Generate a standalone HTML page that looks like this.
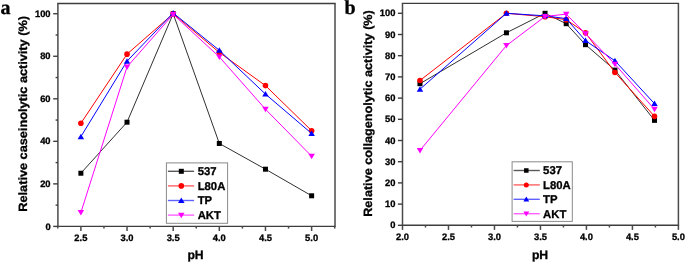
<!DOCTYPE html>
<html><head><meta charset="utf-8"><style>
html,body{margin:0;padding:0;background:#fff;}
body{width:685px;height:263px;overflow:hidden;}
text{stroke:#000;stroke-width:0.3px;}
svg{display:block;will-change:transform;text-rendering:geometricPrecision;font-family:"Liberation Sans", sans-serif;}
</style></head><body>
<svg width="685" height="263" viewBox="0 0 685 263">
<g font-family='"Liberation Sans", sans-serif' font-weight="bold" fill="#000">
<polyline points="80.88,173.23 127.02,122.19 173.18,13.73 219.32,143.46 265.47,169.19 311.62,195.78" fill="none" stroke="#303030" stroke-width="1.0" stroke-linejoin="round"/>
<rect x="78.38" y="170.73" width="5" height="5" fill="#000000"/>
<rect x="124.52" y="119.69" width="5" height="5" fill="#000000"/>
<rect x="170.68" y="11.23" width="5" height="5" fill="#000000"/>
<rect x="216.82" y="140.96" width="5" height="5" fill="#000000"/>
<rect x="262.97" y="166.69" width="5" height="5" fill="#000000"/>
<rect x="309.12" y="193.28" width="5" height="5" fill="#000000"/>
<polyline points="80.88,123.26 127.02,54.14 173.18,13.73 219.32,52.44 265.47,85.61 311.62,130.7" fill="none" stroke="#ff0000" stroke-width="1.0" stroke-linejoin="round"/>
<circle cx="80.88" cy="123.26" r="2.8" fill="#ff0000"/>
<circle cx="127.02" cy="54.14" r="2.8" fill="#ff0000"/>
<circle cx="173.18" cy="13.73" r="2.8" fill="#ff0000"/>
<circle cx="219.32" cy="52.44" r="2.8" fill="#ff0000"/>
<circle cx="265.47" cy="85.61" r="2.8" fill="#ff0000"/>
<circle cx="311.62" cy="130.7" r="2.8" fill="#ff0000"/>
<polyline points="80.88,136.65 127.02,61.16 173.18,12.99 219.32,50.31 265.47,94.12 311.62,133.46" fill="none" stroke="#0000ff" stroke-width="1.0" stroke-linejoin="round"/>
<polygon points="80.88,133.63 84.12,139.13 77.62,139.13" fill="#0000ff"/>
<polygon points="127.02,58.13 130.27,63.63 123.77,63.63" fill="#0000ff"/>
<polygon points="173.18,9.96 176.43,15.46 169.93,15.46" fill="#0000ff"/>
<polygon points="219.32,47.29 222.57,52.79 216.07,52.79" fill="#0000ff"/>
<polygon points="265.47,91.1 268.72,96.6 262.22,96.6" fill="#0000ff"/>
<polygon points="311.62,130.44 314.87,135.94 308.37,135.94" fill="#0000ff"/>
<polyline points="80.88,212.58 127.02,66.9 173.18,14.37 219.32,56.9 265.47,109.22 311.62,156.22" fill="none" stroke="#ff00ff" stroke-width="1.0" stroke-linejoin="round"/>
<polygon points="80.88,215.6 84.12,210.1 77.62,210.1" fill="#ff00ff"/>
<polygon points="127.02,69.93 130.27,64.43 123.77,64.43" fill="#ff00ff"/>
<polygon points="173.18,17.4 176.43,11.9 169.93,11.9" fill="#ff00ff"/>
<polygon points="219.32,59.93 222.57,54.43 216.07,54.43" fill="#ff00ff"/>
<polygon points="265.47,112.25 268.72,106.75 262.22,106.75" fill="#ff00ff"/>
<polygon points="311.62,159.25 314.87,153.75 308.37,153.75" fill="#ff00ff"/>
<line x1="57.2" y1="3.5" x2="335.7" y2="3.5" stroke="#3d3d3d" stroke-width="1.4"/>
<line x1="57.2" y1="226.4" x2="335.7" y2="226.4" stroke="#3d3d3d" stroke-width="1.4"/>
<line x1="57.9" y1="3.5" x2="57.9" y2="226.4" stroke="#4a4a4a" stroke-width="1.5"/>
<line x1="335" y1="3.5" x2="335" y2="226.4" stroke="#4a4a4a" stroke-width="1.5"/>
<line x1="80.88" y1="226.4" x2="80.88" y2="231" stroke="#4a4a4a" stroke-width="1.5"/>
<text x="80.88" y="240.8" text-anchor="middle" font-size="9.4">2.5</text>
<line x1="127.02" y1="226.4" x2="127.02" y2="231" stroke="#4a4a4a" stroke-width="1.5"/>
<text x="127.02" y="240.8" text-anchor="middle" font-size="9.4">3.0</text>
<line x1="173.18" y1="226.4" x2="173.18" y2="231" stroke="#4a4a4a" stroke-width="1.5"/>
<text x="173.18" y="240.8" text-anchor="middle" font-size="9.4">3.5</text>
<line x1="219.32" y1="226.4" x2="219.32" y2="231" stroke="#4a4a4a" stroke-width="1.5"/>
<text x="219.32" y="240.8" text-anchor="middle" font-size="9.4">4.0</text>
<line x1="265.47" y1="226.4" x2="265.47" y2="231" stroke="#4a4a4a" stroke-width="1.5"/>
<text x="265.47" y="240.8" text-anchor="middle" font-size="9.4">4.5</text>
<line x1="311.62" y1="226.4" x2="311.62" y2="231" stroke="#4a4a4a" stroke-width="1.5"/>
<text x="311.62" y="240.8" text-anchor="middle" font-size="9.4">5.0</text>
<line x1="57.8" y1="226.4" x2="57.8" y2="228.6" stroke="#4a4a4a" stroke-width="1.5"/>
<line x1="103.95" y1="226.4" x2="103.95" y2="228.6" stroke="#4a4a4a" stroke-width="1.5"/>
<line x1="150.1" y1="226.4" x2="150.1" y2="228.6" stroke="#4a4a4a" stroke-width="1.5"/>
<line x1="196.25" y1="226.4" x2="196.25" y2="228.6" stroke="#4a4a4a" stroke-width="1.5"/>
<line x1="242.4" y1="226.4" x2="242.4" y2="228.6" stroke="#4a4a4a" stroke-width="1.5"/>
<line x1="288.55" y1="226.4" x2="288.55" y2="228.6" stroke="#4a4a4a" stroke-width="1.5"/>
<line x1="334.7" y1="226.4" x2="334.7" y2="228.6" stroke="#4a4a4a" stroke-width="1.5"/>
<line x1="57.8" y1="226.4" x2="53.2" y2="226.4" stroke="#3d3d3d" stroke-width="1.4"/>
<text x="50.6" y="229.5" text-anchor="end" font-size="9.4">0</text>
<line x1="57.8" y1="183.87" x2="53.2" y2="183.87" stroke="#3d3d3d" stroke-width="1.4"/>
<text x="50.6" y="186.97" text-anchor="end" font-size="9.4">20</text>
<line x1="57.8" y1="141.33" x2="53.2" y2="141.33" stroke="#3d3d3d" stroke-width="1.4"/>
<text x="50.6" y="144.43" text-anchor="end" font-size="9.4">40</text>
<line x1="57.8" y1="98.8" x2="53.2" y2="98.8" stroke="#3d3d3d" stroke-width="1.4"/>
<text x="50.6" y="101.9" text-anchor="end" font-size="9.4">60</text>
<line x1="57.8" y1="56.27" x2="53.2" y2="56.27" stroke="#3d3d3d" stroke-width="1.4"/>
<text x="50.6" y="59.37" text-anchor="end" font-size="9.4">80</text>
<line x1="57.8" y1="13.73" x2="53.2" y2="13.73" stroke="#3d3d3d" stroke-width="1.4"/>
<text x="50.6" y="16.83" text-anchor="end" font-size="9.4">100</text>
<line x1="57.8" y1="205.13" x2="55.6" y2="205.13" stroke="#3d3d3d" stroke-width="1.4"/>
<line x1="57.8" y1="162.6" x2="55.6" y2="162.6" stroke="#3d3d3d" stroke-width="1.4"/>
<line x1="57.8" y1="120.07" x2="55.6" y2="120.07" stroke="#3d3d3d" stroke-width="1.4"/>
<line x1="57.8" y1="77.53" x2="55.6" y2="77.53" stroke="#3d3d3d" stroke-width="1.4"/>
<line x1="57.8" y1="35" x2="55.6" y2="35" stroke="#3d3d3d" stroke-width="1.4"/>
<rect x="166.4" y="162.9" width="61.2" height="60.4" fill="#fff" stroke="#8a8a8a" stroke-width="1"/>
<line x1="167.9" y1="171.3" x2="194.1" y2="171.3" stroke="#303030" stroke-width="1.4" stroke-opacity="0.8"/>
<rect x="178.8" y="168.8" width="5" height="5" fill="#000000"/>
<text x="197.7" y="174.9" font-size="11.3">537</text>
<line x1="167.9" y1="185.9" x2="194.1" y2="185.9" stroke="#ff0000" stroke-width="1.4" stroke-opacity="0.62"/>
<circle cx="181.3" cy="185.9" r="2.8" fill="#ff0000"/>
<text x="197.7" y="189.5" font-size="11.3">L80A</text>
<line x1="167.9" y1="200.5" x2="194.1" y2="200.5" stroke="#0000ff" stroke-width="1.4" stroke-opacity="0.62"/>
<polygon points="181.3,197.47 184.55,202.97 178.05,202.97" fill="#0000ff"/>
<text x="197.7" y="204.1" font-size="11.3">TP</text>
<line x1="167.9" y1="215.1" x2="194.1" y2="215.1" stroke="#ff00ff" stroke-width="1.4" stroke-opacity="0.62"/>
<polygon points="181.3,218.13 184.55,212.63 178.05,212.63" fill="#ff00ff"/>
<text x="197.7" y="218.7" font-size="11.3">AKT</text>
<text x="195.5" y="259.1" text-anchor="middle" font-size="12.2">pH</text>
<text transform="translate(27.4,113.85) rotate(-90)" text-anchor="middle" font-size="12" textLength="195.6" lengthAdjust="spacingAndGlyphs">Relative caseinolytic activity (%)</text>
<text x="0.6" y="14.1" font-family="'Liberation Serif', serif" font-size="20" font-weight="bold">a</text>
<polyline points="419.97,83.68 506.42,32.8 545.05,13.3 566.2,23.69 585.51,44.68 614.94,70.12 654.49,120.36" fill="none" stroke="#303030" stroke-width="1.0" stroke-linejoin="round"/>
<rect x="417.47" y="81.18" width="5" height="5" fill="#000000"/>
<rect x="503.92" y="30.3" width="5" height="5" fill="#000000"/>
<rect x="542.55" y="10.8" width="5" height="5" fill="#000000"/>
<rect x="563.7" y="21.19" width="5" height="5" fill="#000000"/>
<rect x="583.01" y="42.18" width="5" height="5" fill="#000000"/>
<rect x="612.44" y="67.62" width="5" height="5" fill="#000000"/>
<rect x="651.99" y="117.86" width="5" height="5" fill="#000000"/>
<polyline points="419.97,80.5 506.42,13.3 545.05,16.69 566.2,19.66 585.51,32.8 614.94,72.45 654.49,116.33" fill="none" stroke="#ff0000" stroke-width="1.0" stroke-linejoin="round"/>
<circle cx="419.97" cy="80.5" r="2.8" fill="#ff0000"/>
<circle cx="506.42" cy="13.3" r="2.8" fill="#ff0000"/>
<circle cx="545.05" cy="16.69" r="2.8" fill="#ff0000"/>
<circle cx="566.2" cy="19.66" r="2.8" fill="#ff0000"/>
<circle cx="585.51" cy="32.8" r="2.8" fill="#ff0000"/>
<circle cx="614.94" cy="72.45" r="2.8" fill="#ff0000"/>
<circle cx="654.49" cy="116.33" r="2.8" fill="#ff0000"/>
<polyline points="419.97,89.2 506.42,13.3 545.05,15.84 566.2,18.6 585.51,40.65 614.94,60.79 654.49,103.61" fill="none" stroke="#0000ff" stroke-width="1.0" stroke-linejoin="round"/>
<polygon points="419.97,86.17 423.22,91.67 416.72,91.67" fill="#0000ff"/>
<polygon points="506.42,10.28 509.67,15.78 503.17,15.78" fill="#0000ff"/>
<polygon points="545.05,12.82 548.3,18.32 541.8,18.32" fill="#0000ff"/>
<polygon points="566.2,15.57 569.45,21.07 562.95,21.07" fill="#0000ff"/>
<polygon points="585.51,37.62 588.76,43.12 582.26,43.12" fill="#0000ff"/>
<polygon points="614.94,57.76 618.19,63.26 611.69,63.26" fill="#0000ff"/>
<polygon points="654.49,100.59 657.74,106.09 651.24,106.09" fill="#0000ff"/>
<polyline points="419.97,150.46 506.42,45.52 545.05,16.48 566.2,14.15 585.51,33.65 614.94,64.18 654.49,109.34" fill="none" stroke="#ff00ff" stroke-width="1.0" stroke-linejoin="round"/>
<polygon points="419.97,153.49 423.22,147.99 416.72,147.99" fill="#ff00ff"/>
<polygon points="506.42,48.55 509.67,43.05 503.17,43.05" fill="#ff00ff"/>
<polygon points="545.05,19.5 548.3,14 541.8,14" fill="#ff00ff"/>
<polygon points="566.2,17.17 569.45,11.67 562.95,11.67" fill="#ff00ff"/>
<polygon points="585.51,36.68 588.76,31.18 582.26,31.18" fill="#ff00ff"/>
<polygon points="614.94,67.21 618.19,61.71 611.69,61.71" fill="#ff00ff"/>
<polygon points="654.49,112.36 657.74,106.86 651.24,106.86" fill="#ff00ff"/>
<line x1="401.8" y1="3.35" x2="679.1" y2="3.35" stroke="#3d3d3d" stroke-width="1.4"/>
<line x1="401.8" y1="225.3" x2="679.1" y2="225.3" stroke="#3d3d3d" stroke-width="1.4"/>
<line x1="402.5" y1="3.35" x2="402.5" y2="225.3" stroke="#4a4a4a" stroke-width="1.5"/>
<line x1="678.4" y1="3.35" x2="678.4" y2="225.3" stroke="#4a4a4a" stroke-width="1.5"/>
<line x1="402.5" y1="225.3" x2="402.5" y2="229.9" stroke="#4a4a4a" stroke-width="1.5"/>
<text x="402.5" y="239.8" text-anchor="middle" font-size="9.4">2.0</text>
<line x1="448.48" y1="225.3" x2="448.48" y2="229.9" stroke="#4a4a4a" stroke-width="1.5"/>
<text x="448.48" y="239.8" text-anchor="middle" font-size="9.4">2.5</text>
<line x1="494.47" y1="225.3" x2="494.47" y2="229.9" stroke="#4a4a4a" stroke-width="1.5"/>
<text x="494.47" y="239.8" text-anchor="middle" font-size="9.4">3.0</text>
<line x1="540.45" y1="225.3" x2="540.45" y2="229.9" stroke="#4a4a4a" stroke-width="1.5"/>
<text x="540.45" y="239.8" text-anchor="middle" font-size="9.4">3.5</text>
<line x1="586.43" y1="225.3" x2="586.43" y2="229.9" stroke="#4a4a4a" stroke-width="1.5"/>
<text x="586.43" y="239.8" text-anchor="middle" font-size="9.4">4.0</text>
<line x1="632.42" y1="225.3" x2="632.42" y2="229.9" stroke="#4a4a4a" stroke-width="1.5"/>
<text x="632.42" y="239.8" text-anchor="middle" font-size="9.4">4.5</text>
<line x1="678.4" y1="225.3" x2="678.4" y2="229.9" stroke="#4a4a4a" stroke-width="1.5"/>
<text x="678.4" y="239.8" text-anchor="middle" font-size="9.4">5.0</text>
<line x1="425.49" y1="225.3" x2="425.49" y2="227.5" stroke="#4a4a4a" stroke-width="1.5"/>
<line x1="471.48" y1="225.3" x2="471.48" y2="227.5" stroke="#4a4a4a" stroke-width="1.5"/>
<line x1="517.46" y1="225.3" x2="517.46" y2="227.5" stroke="#4a4a4a" stroke-width="1.5"/>
<line x1="563.44" y1="225.3" x2="563.44" y2="227.5" stroke="#4a4a4a" stroke-width="1.5"/>
<line x1="609.42" y1="225.3" x2="609.42" y2="227.5" stroke="#4a4a4a" stroke-width="1.5"/>
<line x1="655.41" y1="225.3" x2="655.41" y2="227.5" stroke="#4a4a4a" stroke-width="1.5"/>
<line x1="402.5" y1="225.3" x2="397.9" y2="225.3" stroke="#3d3d3d" stroke-width="1.4"/>
<text x="395.4" y="228.4" text-anchor="end" font-size="9.4">0</text>
<line x1="402.5" y1="204.1" x2="397.9" y2="204.1" stroke="#3d3d3d" stroke-width="1.4"/>
<text x="395.4" y="207.2" text-anchor="end" font-size="9.4">10</text>
<line x1="402.5" y1="182.9" x2="397.9" y2="182.9" stroke="#3d3d3d" stroke-width="1.4"/>
<text x="395.4" y="186" text-anchor="end" font-size="9.4">20</text>
<line x1="402.5" y1="161.7" x2="397.9" y2="161.7" stroke="#3d3d3d" stroke-width="1.4"/>
<text x="395.4" y="164.8" text-anchor="end" font-size="9.4">30</text>
<line x1="402.5" y1="140.5" x2="397.9" y2="140.5" stroke="#3d3d3d" stroke-width="1.4"/>
<text x="395.4" y="143.6" text-anchor="end" font-size="9.4">40</text>
<line x1="402.5" y1="119.3" x2="397.9" y2="119.3" stroke="#3d3d3d" stroke-width="1.4"/>
<text x="395.4" y="122.4" text-anchor="end" font-size="9.4">50</text>
<line x1="402.5" y1="98.1" x2="397.9" y2="98.1" stroke="#3d3d3d" stroke-width="1.4"/>
<text x="395.4" y="101.2" text-anchor="end" font-size="9.4">60</text>
<line x1="402.5" y1="76.9" x2="397.9" y2="76.9" stroke="#3d3d3d" stroke-width="1.4"/>
<text x="395.4" y="80" text-anchor="end" font-size="9.4">70</text>
<line x1="402.5" y1="55.7" x2="397.9" y2="55.7" stroke="#3d3d3d" stroke-width="1.4"/>
<text x="395.4" y="58.8" text-anchor="end" font-size="9.4">80</text>
<line x1="402.5" y1="34.5" x2="397.9" y2="34.5" stroke="#3d3d3d" stroke-width="1.4"/>
<text x="395.4" y="37.6" text-anchor="end" font-size="9.4">90</text>
<line x1="402.5" y1="13.3" x2="397.9" y2="13.3" stroke="#3d3d3d" stroke-width="1.4"/>
<text x="395.4" y="16.4" text-anchor="end" font-size="9.4">100</text>
<rect x="512.1" y="161.8" width="60.2" height="59.6" fill="#fff" stroke="#8a8a8a" stroke-width="1"/>
<line x1="513.6" y1="170.5" x2="539.8" y2="170.5" stroke="#303030" stroke-width="1.4" stroke-opacity="0.8"/>
<rect x="524.05" y="168.25" width="4.5" height="4.5" fill="#000000"/>
<text x="543.1" y="174.3" font-size="11.3">537</text>
<line x1="513.6" y1="184.9" x2="539.8" y2="184.9" stroke="#ff0000" stroke-width="1.4" stroke-opacity="0.62"/>
<circle cx="526.3" cy="184.9" r="2.52" fill="#ff0000"/>
<text x="543.1" y="188.7" font-size="11.3">L80A</text>
<line x1="513.6" y1="199.3" x2="539.8" y2="199.3" stroke="#0000ff" stroke-width="1.4" stroke-opacity="0.62"/>
<polygon points="526.3,196.58 529.23,201.53 523.38,201.53" fill="#0000ff"/>
<text x="543.1" y="203.1" font-size="11.3">TP</text>
<line x1="513.6" y1="213.7" x2="539.8" y2="213.7" stroke="#ff00ff" stroke-width="1.4" stroke-opacity="0.62"/>
<polygon points="526.3,216.42 529.23,211.47 523.38,211.47" fill="#ff00ff"/>
<text x="543.1" y="217.5" font-size="11.3">AKT</text>
<text x="540" y="258.7" text-anchor="middle" font-size="12.2">pH</text>
<text transform="translate(372,113.5) rotate(-90)" text-anchor="middle" font-size="12" textLength="206.6" lengthAdjust="spacingAndGlyphs">Relative collagenolytic activity (%)</text>
<text x="344.5" y="14.3" font-family="'Liberation Serif', serif" font-size="20" font-weight="bold">b</text>
</g></svg>
</body></html>
